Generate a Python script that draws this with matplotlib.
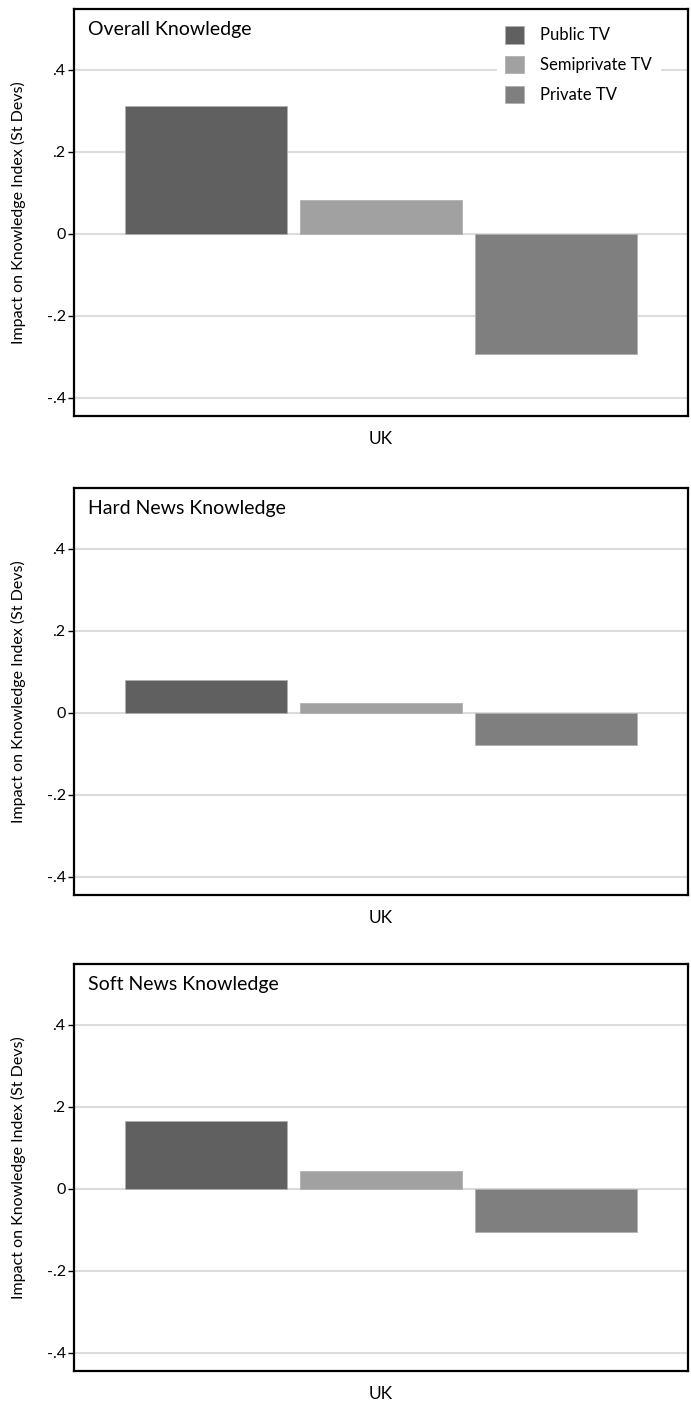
import matplotlib
matplotlib.use("Agg")
import matplotlib.pyplot as plt

plt.rcParams['font.family'] = ['Lato', 'DejaVu Sans']

categories = ["Public TV", "Semiprivate TV", "Private TV"]
panel_titles = ["Overall Knowledge", "Hard News Knowledge", "Soft News Knowledge"]
overall = [0.312, 0.083, -0.293]
hard_news = [0.080, 0.024, -0.080]
soft_news = [0.166, 0.044, -0.105]
panel_values = [overall, hard_news, soft_news]
yticks = [-0.4, -0.2, 0, 0.2, 0.4]
ytick_labels = ["-.4", "-.2", "0", ".2", ".4"]
xlabel = "UK"
ylabel = "Impact on Knowledge Index (St Devs)"

colors = ["#606060", "#a1a1a1", "#7f7f7f"]

fig = plt.figure(figsize=(6.91, 14.10), dpi=100)
left = 74 / 691
width = (688 - 74) / 691
height = 407 / 1410
bottoms = [1 - 416 / 1410, 1 - 895 / 1410, 1 - 1371 / 1410]

for i, (vals, title, bot) in enumerate(zip(panel_values, panel_titles, bottoms)):
    ax = fig.add_axes([left, bot, width, height])
    ax.set_axisbelow(True)
    for y in yticks:
        ax.axhline(y, color="#dcdcdc", lw=1.5, zorder=0)
    for j, (cat, v) in enumerate(zip(categories, vals)):
        ax.bar(j, v, width=0.925, color=colors[j], edgecolor="#b0b0b0",
               linewidth=0.6, label=cat, zorder=2)
    ax.set_xlim(-0.754, 2.754)
    ax.set_ylim(-0.445, 0.548)
    ax.set_yticks(yticks)
    ax.set_yticklabels(ytick_labels, fontsize=11.5)
    ax.set_xticks([])
    ax.tick_params(axis='y', length=4, width=1, pad=2)
    for s in ax.spines.values():
        s.set_linewidth(1.6)
        s.set_color("black")
    ax.set_ylabel(ylabel, fontsize=11.5)
    ax.yaxis.set_label_coords(-0.078, 0.5)
    ax.set_xlabel(xlabel, fontsize=12.5)
    ax.xaxis.set_label_coords(0.5, -0.036)
    ax.text(0.023, 0.95, title, transform=ax.transAxes, fontsize=14,
            ha="left", va="center")
    if i == 0:
        leg = ax.legend(loc="upper left", bbox_to_anchor=(0.689, 0.979),
                        frameon=True, fontsize=12, handlelength=1.1,
                        handleheight=1.25, handletextpad=1.0, labelspacing=0.74,
                        borderpad=0.5, borderaxespad=0)
        leg.get_frame().set_edgecolor("white")
        leg.get_frame().set_facecolor("white")
        leg.get_frame().set_alpha(1)
        leg.get_frame().set_boxstyle("square", pad=0)

fig.savefig("out.png", dpi=100)
